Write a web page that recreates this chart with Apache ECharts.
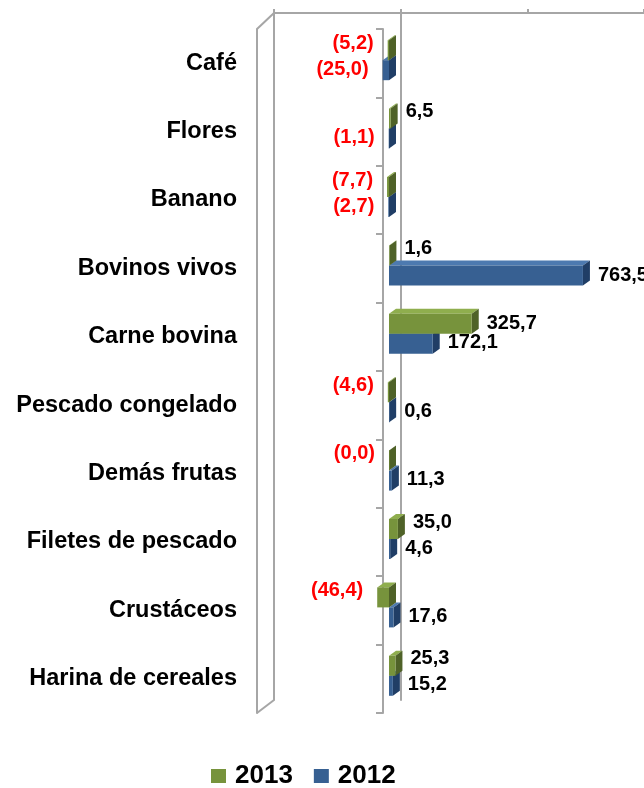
<!DOCTYPE html>
<html>
<head>
<meta charset="utf-8">
<script src="https://cdn.jsdelivr.net/npm/echarts@6/dist/echarts.min.js"></script>
<style>
html,body{margin:0;padding:0;background:#fff;}
#chart{width:644px;height:788px;}
</style>
</head>
<body>
<div id="chart"></div>
<script>
const categories = ['Café','Flores','Banano','Bovinos vivos','Carne bovina','Pescado congelado','Demás frutas','Filetes de pescado','Crustáceos','Harina de cereales'];
const seriesNames = ['2013','2012'];
const values2013 = [-5.2, 6.5, -7.7, 1.6, 325.7, -4.6, -0.01, 35.0, -46.4, 25.3];
const values2012 = [-25.0, -1.1, -2.7, 763.5, 172.1, 0.6, 11.3, 4.6, 17.6, 15.2];
const axisMin = -500, axisMax = 1000, axisStep = 500;

const FONT = '"Liberation Sans", Arial, sans-serif';
const GRAY = '#A6A6A6';
const palette = [
  {front:'#77933C', top:'#8FAE4E', side:'#4F6228'},
  {front:'#376092', top:'#4D7AB0', side:'#203E66'}
];
const DX = 7, DY = -5;
// back wall is cut by the right edge of the picture: same scale as the front grid
const FRONT_W = 381, BACK_W = 370;
const backMax = axisMin + (axisMax - axisMin) * BACK_W / FRONT_W;

function fmt(v){
  const s = Math.abs(v).toFixed(1).replace('.', ',');
  return v < 0 ? '(' + s + ')' : s;
}

function makeRender(sIdx){
  return function(params, api){
    const v = api.value(0), ci = api.value(1);
    const p1 = api.coord([v, ci]);
    const p0 = api.coord([0, ci]);
    const c = p1[1];
    const top = sIdx === 0 ? c - 23 : c - 3;
    const bot = top + 20;
    const xl = Math.min(p0[0], p1[0]);
    const xr = Math.max(p0[0], p1[0]);
    const col = palette[sIdx];
    const long = (xr - xl) > 50;
    const ly = sIdx === 0 ? (long ? c - 13 : c - 20) : (long ? c + 7 : c + 6);
    const neg = v < 0;
    const label = {
      type:'text', z2: 10,
      style:{
        text: fmt(v),
        x: neg ? p1[0] - 14 : p1[0] + DX + 8,
        y: ly,
        align: neg ? 'right' : 'left',
        verticalAlign:'middle',
        fill: neg ? '#FF0000' : '#000000',
        font: 'bold 20px ' + FONT
      }
    };
    return {
      type:'group',
      children:[
        {type:'polygon', shape:{points:[[xl,top],[xr,top],[xr+DX,top+DY],[xl+DX,top+DY]]}, style:{fill:col.top}},
        {type:'polygon', shape:{points:[[xr,top],[xr+DX,top+DY],[xr+DX,bot+DY],[xr,bot]]}, style:{fill:col.side}},
        {type:'rect', shape:{x:xl, y:top, width:Math.max(xr-xl,0.5), height:bot-top}, style:{fill:col.front}},
        label
      ]
    };
  };
}

const chart = echarts.init(document.getElementById('chart'), null, {renderer:'canvas'});
const option = {
  animation:false,
  backgroundColor:'#ffffff',
  grid:[
    {left:262, width:FRONT_W, top:29, bottom:75},
    {left:274, width:BACK_W, top:13, bottom:88}
  ],
  xAxis:[
    {gridIndex:0, type:'value', min:axisMin, max:axisMax, interval:axisStep, show:false},
    {gridIndex:1, type:'value', min:axisMin, max:backMax, interval:axisStep, position:'top',
      axisLine:{show:true, onZero:false, lineStyle:{color:GRAY, width:2}},
      axisTick:{show:true, length:4, inside:false, lineStyle:{color:GRAY, width:2}},
      axisLabel:{show:false}, splitLine:{show:false}}
  ],
  yAxis:[
    {gridIndex:0, type:'category', data:categories, inverse:true, position:'left', offset:-121,
      axisLine:{show:true, onZero:false, lineStyle:{color:GRAY, width:2}},
      axisTick:{show:true, length:7, inside:false, lineStyle:{color:GRAY, width:2}},
      axisLabel:{margin:146, color:'#000', fontWeight:'bold', fontSize:23.5, fontFamily:FONT},
      splitLine:{show:false}},
    {gridIndex:0, type:'category', data:categories, inverse:true, position:'left', offset:5,
      axisLine:{show:true, onZero:false, lineStyle:{color:GRAY, width:2}},
      axisTick:{show:false}, axisLabel:{show:false}, splitLine:{show:false}},
    {gridIndex:1, type:'category', data:categories, inverse:true,
      axisLine:{show:true, onZero:true, lineStyle:{color:GRAY, width:2}},
      axisTick:{show:false}, axisLabel:{show:false}, splitLine:{show:false}},
    {gridIndex:1, type:'category', data:categories, inverse:true, position:'left',
      axisLine:{show:true, onZero:false, lineStyle:{color:GRAY, width:2}},
      axisTick:{show:false}, axisLabel:{show:false}, splitLine:{show:false}}
  ],
  legend:{
    data:seriesNames, left:211, top:763, padding:0, itemGap:21,
    icon:'rect', itemWidth:15, itemHeight:14,
    textStyle:{color:'#000', fontWeight:'bold', fontSize:26, fontFamily:FONT, padding:[0,0,0,4]}
  },
  graphic:[
    {type:'line', shape:{x1:257, y1:29, x2:274, y2:13}, style:{stroke:GRAY, lineWidth:2}},
    {type:'line', shape:{x1:257, y1:713, x2:274, y2:700}, style:{stroke:GRAY, lineWidth:2}}
  ],
  series:[
    {name:seriesNames[0], type:'custom', xAxisIndex:0, yAxisIndex:0, z:3,
      itemStyle:{color:palette[0].front},
      encode:{x:0, y:1},
      data: values2013.map((v,i)=>[v,i]),
      renderItem: makeRender(0)},
    {name:seriesNames[1], type:'custom', xAxisIndex:0, yAxisIndex:0, z:2,
      itemStyle:{color:palette[1].front},
      encode:{x:0, y:1},
      data: values2012.map((v,i)=>[v,i]),
      renderItem: makeRender(1)}
  ]
};
chart.setOption(option);
</script>
</body>
</html>
